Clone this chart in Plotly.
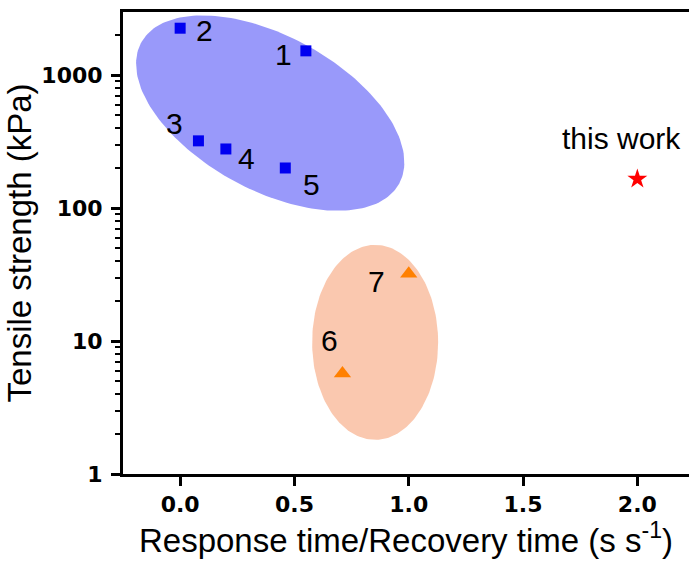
import numpy as np
import plotly.graph_objects as go

# Data
sq_x = [0.55, 0.0, 0.08, 0.2, 0.46]
sq_y = [1520, 2250, 320, 278, 200]
sq_lab = ["1", "2", "3", "4", "5"]
tri_x = [0.71, 1.0]
tri_y = [5.7, 32]
tri_lab = ["6", "7"]
star_x = [2.0]
star_y = [165]
star_lab = ["this work"]

x_ticks = [0.0, 0.5, 1.0, 1.5, 2.0]
y_ticks = [1, 10, 100, 1000]

# Layout geometry
W, H = 689, 564
ML, MR, MT, MB = 123, 0, 12, 90
XR = [-0.25, 2.226]
YR = [0.0, 3.474]
pw = W - ML - MR
ph = H - MT - MB
pxx = pw / (XR[1] - XR[0])
pxy = ph / (YR[1] - YR[0])


def ellipse(cx, cy_log, a_px, b_px, ang_deg, n=200):
    t = np.linspace(0, 2 * np.pi, n)
    th = np.deg2rad(ang_deg)
    dx = a_px * np.cos(t) * np.cos(th) - b_px * np.sin(t) * np.sin(th)
    dy = a_px * np.cos(t) * np.sin(th) + b_px * np.sin(t) * np.cos(th)  # screen-down positive
    xs = cx + dx / pxx
    ys = 10 ** (cy_log - dy / pxy)
    return xs, ys


fig = go.Figure()

ex, ey = ellipse(0.394, 2.714, 147, 77, 28.7)
fig.add_trace(go.Scatter(x=ex, y=ey, mode="lines", fill="toself",
                         fillcolor="rgb(153,153,250)", line=dict(width=0),
                         hoverinfo="skip", showlegend=False))
ox, oy = ellipse(0.853, 0.99, 63, 97.5, 0)
fig.add_trace(go.Scatter(x=ox, y=oy, mode="lines", fill="toself",
                         fillcolor="rgb(250,200,175)", line=dict(width=0),
                         hoverinfo="skip", showlegend=False))

fig.add_trace(go.Scatter(x=sq_x, y=sq_y, mode="markers",
                         marker=dict(symbol="square", size=11, color="rgb(0,0,240)"),
                         showlegend=False))
fig.add_trace(go.Scatter(x=tri_x, y=tri_y, mode="markers",
                         marker=dict(symbol="triangle-up", size=15, color="rgb(255,128,0)"),
                         showlegend=False))
fig.add_trace(go.Scatter(x=star_x, y=star_y, mode="markers",
                         marker=dict(symbol="star", size=15, color="rgb(255,0,0)"),
                         showlegend=False))

# labels offsets (px)
sq_off = [(-22, 4), (24, 2), (-24, -17), (21, 10), (26, 17)]
tri_off = [(-13, -33), (-32, 8)]
lab_font = dict(family="Liberation Sans, Arial", size=30, color="black")
for x, y, t, (dx, dy) in zip(sq_x, sq_y, sq_lab, sq_off):
    fig.add_annotation(x=x, y=np.log10(y), text=t, showarrow=False, xshift=dx, yshift=-dy, font=lab_font)
for x, y, t, (dx, dy) in zip(tri_x, tri_y, tri_lab, tri_off):
    fig.add_annotation(x=x, y=np.log10(y), text=t, showarrow=False, xshift=dx, yshift=-dy, font=lab_font)
fig.add_annotation(x=star_x[0], y=np.log10(star_y[0]), text=star_lab[0], showarrow=False,
                   xshift=-16, yshift=41, font=lab_font)

tfont = dict(family="DejaVu Sans", size=22, color="black", weight="bold")
fig.update_layout(
    width=W, height=H,
    margin=dict(l=ML, r=MR, t=MT, b=MB),
    plot_bgcolor="white", paper_bgcolor="white",
    xaxis=dict(range=XR, tickvals=x_ticks, ticktext=[f"{v:.1f}" for v in x_ticks],
               showgrid=False, zeroline=False, showline=True, linecolor="black", linewidth=3,
               mirror=True, ticks="outside", ticklen=9, tickwidth=3, tickcolor="black",
               tickfont=tfont,
               title=dict(text="Response time/Recovery time (s s<sup>-1</sup>)",
                          font=dict(family="Liberation Sans, Arial", size=33, color="black"),
                          standoff=6)),
    yaxis=dict(type="log", range=YR, tickvals=y_ticks, ticktext=[str(v) for v in y_ticks],
               showgrid=False, zeroline=False, showline=True, linecolor="black", linewidth=3,
               ticks="outside", ticklen=9, tickwidth=3, tickcolor="black",
               ticklabelstandoff=4,
               minor=dict(ticks="outside", ticklen=5, tickwidth=2, tickcolor="black",
                          dtick="D1", showgrid=False),
               tickfont=tfont,
               title=dict(text="Tensile strength (kPa)",
                          font=dict(family="Liberation Sans, Arial", size=33, color="black"),
                          standoff=0)),
)

fig.write_html("out.html")
